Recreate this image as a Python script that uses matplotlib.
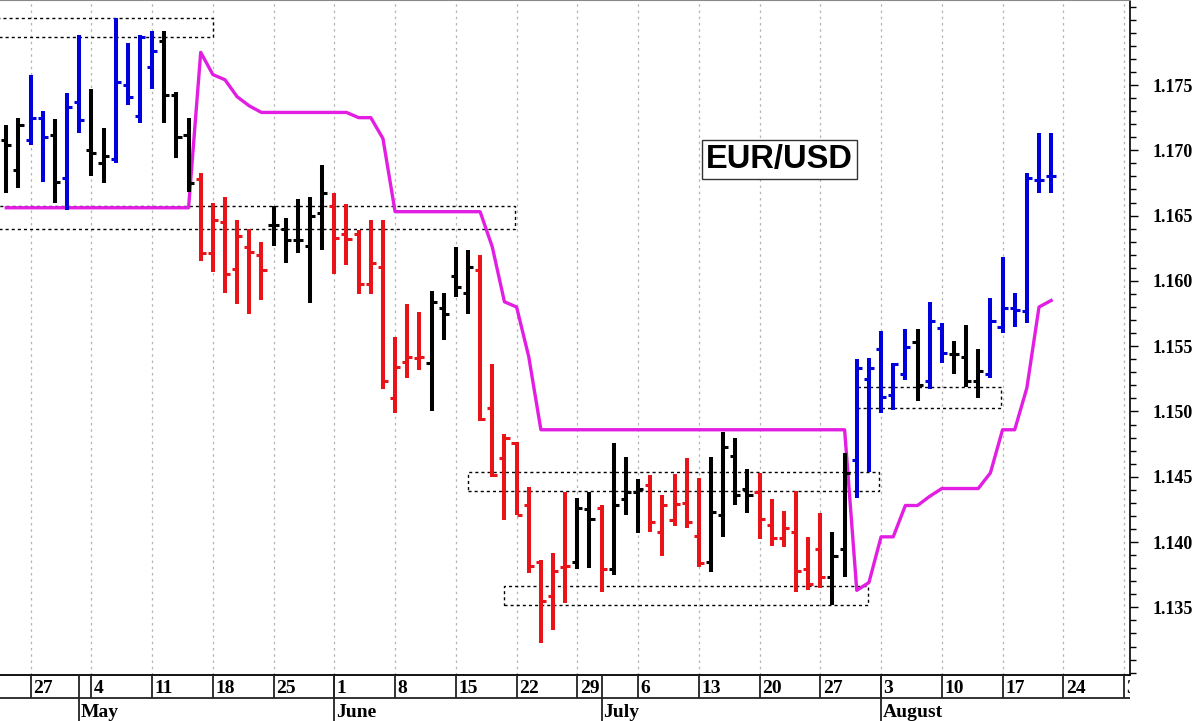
import matplotlib
matplotlib.use("Agg")
import matplotlib.pyplot as plt
from matplotlib.patches import Rectangle
from matplotlib.ticker import MultipleLocator, FixedLocator, FormatStrFormatter
import numpy as np
import pandas as pd

# trading days shown on the axis (bars run from Apr 23 to Aug 21)
calendar = pd.bdate_range("2020-04-23", "2020-09-04")

opens = [1.1708, 1.1685, 1.1708, 1.1725, 1.1712, 1.1679, 1.1737, 1.1700, 1.1690, 1.1693,
         1.1750, 1.1726, 1.1764, 1.1784, 1.1742, 1.1712, 1.1678, 1.1621, 1.1645, 1.1609,
         1.1626, 1.1620, 1.1643, 1.1640, 1.1631, 1.1627, 1.1652, 1.1657, 1.1636, 1.1636,
         1.1598, 1.1611, 1.1510, 1.1538, 1.1541, 1.1537, 1.1579, 1.1604, 1.1591, 1.1608,
         1.1503, 1.1464, 1.1476, 1.1428, 1.1385, 1.1359, 1.1381, 1.1385, 1.1425, 1.1426,
         1.1379, 1.1433, 1.1438, 1.1444, 1.1408, 1.1417, 1.1430, 1.1405, 1.1385, 1.1421,
         1.1466, 1.1441, 1.1438, 1.1413, 1.1403, 1.1408, 1.1379, 1.1395, 1.1373, 1.1395,
         1.1463, 1.1525, 1.1548, 1.1513, 1.1529, 1.1553, 1.1523, 1.1564, 1.1544, 1.1542,
         1.1523, 1.1529, 1.1565, 1.1579, 1.1577, 1.1677, 1.1680]
highs = [1.1719, 1.1725, 1.1758, 1.1730, 1.1724, 1.1744, 1.1788, 1.1747, 1.1717, 1.1801,
         1.1782, 1.1788, 1.1791, 1.1791, 1.1745, 1.1725, 1.1683, 1.1660, 1.1664, 1.1647,
         1.1640, 1.1630, 1.1657, 1.1648, 1.1663, 1.1664, 1.1689, 1.1667, 1.1659, 1.1639,
         1.1647, 1.1647, 1.1557, 1.1582, 1.1576, 1.1592, 1.1591, 1.1626, 1.1624, 1.1620,
         1.1536, 1.1483, 1.1477, 1.1442, 1.1386, 1.1392, 1.1438, 1.1434, 1.1438, 1.1428,
         1.1476, 1.1465, 1.1448, 1.1451, 1.1436, 1.1452, 1.1464, 1.1449, 1.1465, 1.1484,
         1.1480, 1.1456, 1.1453, 1.1433, 1.1424, 1.1439, 1.1404, 1.1422, 1.1408, 1.1468,
         1.1540, 1.1541, 1.1562, 1.1537, 1.1563, 1.1563, 1.1584, 1.1568, 1.1554, 1.1566,
         1.1548, 1.1587, 1.1618, 1.1591, 1.1683, 1.1713, 1.1713]
lows = [1.1667, 1.1671, 1.1704, 1.1676, 1.1660, 1.1654, 1.1713, 1.1680, 1.1675, 1.1690,
        1.1735, 1.1721, 1.1747, 1.1721, 1.1694, 1.1668, 1.1615, 1.1607, 1.1591, 1.1582,
        1.1575, 1.1585, 1.1627, 1.1614, 1.1621, 1.1583, 1.1624, 1.1605, 1.1612, 1.1590,
        1.1590, 1.1517, 1.1499, 1.1526, 1.1532, 1.1500, 1.1555, 1.1588, 1.1575, 1.1493,
        1.1450, 1.1417, 1.1421, 1.1376, 1.1323, 1.1333, 1.1353, 1.1379, 1.1380, 1.1362,
        1.1375, 1.1421, 1.1407, 1.1408, 1.1389, 1.1412, 1.1411, 1.1381, 1.1377, 1.1404,
        1.1428, 1.1422, 1.1402, 1.1397, 1.1396, 1.1362, 1.1363, 1.1365, 1.1352, 1.1373,
        1.1434, 1.1454, 1.1499, 1.1501, 1.1524, 1.1508, 1.1517, 1.1537, 1.1529, 1.1519,
        1.1510, 1.1526, 1.1560, 1.1565, 1.1568, 1.1667, 1.1667]
closes = [1.1704, 1.1719, 1.1725, 1.1710, 1.1676, 1.1733, 1.1723, 1.1698, 1.1696, 1.1752,
          1.1741, 1.1787, 1.1776, 1.1742, 1.1710, 1.1675, 1.1621, 1.1647, 1.1605, 1.1634,
          1.1622, 1.1608, 1.1643, 1.1631, 1.1631, 1.1650, 1.1667, 1.1633, 1.1632, 1.1598,
          1.1614, 1.1523, 1.1534, 1.1542, 1.1542, 1.1584, 1.1575, 1.1595, 1.1611, 1.1494,
          1.1451, 1.1480, 1.1421, 1.1382, 1.1355, 1.1378, 1.1382, 1.1426, 1.1418, 1.1379,
          1.1428, 1.1438, 1.1441, 1.1415, 1.1428, 1.1429, 1.1415, 1.1384, 1.1423, 1.1473,
          1.1436, 1.1436, 1.1418, 1.1403, 1.1411, 1.1378, 1.1368, 1.1373, 1.1389, 1.1453,
          1.1533, 1.1533, 1.1511, 1.1536, 1.1549, 1.1520, 1.1569, 1.1545, 1.1544, 1.1523,
          1.1531, 1.1569, 1.1579, 1.1578, 1.1679, 1.1677, 1.1680]

# bar colour per day: b = up trend, r = down trend, k = neutral
trend = ("kk" "bb" "k" "bb" "kk" "bbbb" "kkk" "rrrrrr" "kkkkk" "rrrrrrrr" "kkkk"
         "rrrrrrrr" "kk" "r" "kkk" "rrrrr" "kkkk" "rrrrrr" "kk" "bbbbb" "k" "bb"
         "kkk" "bbbbbb")

stop_line = [1.1656, 1.1656, 1.1656, 1.1656, 1.1656, 1.1656, 1.1656, 1.1656, 1.1656, 1.1656,
             1.1656, 1.1656, 1.1656, 1.1656, 1.1656, 1.1656, 1.1775, 1.1758, 1.1754, 1.1741,
             1.1734, 1.1729, 1.1729, 1.1729, 1.1729, 1.1729, 1.1729, 1.1729, 1.1729, 1.1725,
             1.1725, 1.1709, 1.1653, 1.1653, 1.1653, 1.1653, 1.1653, 1.1653, 1.1653, 1.1653,
             1.1626, 1.1584, 1.1580, 1.1542, 1.1486, 1.1486, 1.1486, 1.1486, 1.1486, 1.1486,
             1.1486, 1.1486, 1.1486, 1.1486, 1.1486, 1.1486, 1.1486, 1.1486, 1.1486, 1.1486,
             1.1486, 1.1486, 1.1486, 1.1486, 1.1486, 1.1486, 1.1486, 1.1486, 1.1486, 1.1486,
             1.1363, 1.1369, 1.1404, 1.1404, 1.1428, 1.1428, 1.1435, 1.1441, 1.1441, 1.1441,
             1.1441, 1.1453, 1.1486, 1.1486, 1.1518, 1.1580, 1.1585]

# dotted range boxes (day index span, price span)
box_start = [-1.0, -1.0, 38.0, 41.0, 70.0]
box_end = [17.0, 41.9, 71.8, 70.9, 81.9]
box_low = [1.1787, 1.1640, 1.1439, 1.1352, 1.1503]
box_high = [1.1801, 1.1657, 1.1454, 1.1366, 1.1519]

price_labels = [1.135, 1.140, 1.145, 1.150, 1.155, 1.160, 1.165, 1.170, 1.175]

colour_map = {"k": "black", "b": "#0000dc", "r": "#e8141a"}
cols = [colour_map[c] for c in trend]
x = np.arange(len(opens))

W, H = 1200, 721
fig = plt.figure(figsize=(W / 100, H / 100), dpi=100)
ax = fig.add_axes([0, 46 / H, 1130 / W, 675 / H])
ax_d = fig.add_axes([0, 0, 1130 / W, 46 / H])

xlim = (-0.52, 92.49)
ax.set_xlim(*xlim)
ax.set_ylim(1.12982, 1.18151)

week_idx = [i for i, d in enumerate(calendar) if d.dayofweek == 0]
week_lab = [str(calendar[i].day) for i in week_idx]
month_idx = [i for i in range(1, len(calendar))
             if calendar[i].month != calendar[i - 1].month and i < xlim[1]]
month_lab = [calendar[i].strftime("%B") for i in month_idx]

ax.set_xticks(week_idx)
ax.tick_params(axis="x", length=0, labelbottom=False)
ax.grid(axis="x", color="#b4b4b4", lw=0.9, ls=(0, (2, 3)))
ax.set_axisbelow(True)

for s, e, lo, hi in zip(box_start, box_end, box_low, box_high):
    ax.add_patch(Rectangle((s, lo), e - s, hi - lo, fill=False, ec="black",
                           lw=1.0, ls=(0, (2.2, 2.2)), zorder=2))

ax.plot(x, stop_line, color="#e21ee2", lw=2.4, zorder=3, solid_joinstyle="round")

ax.vlines(x, lows, highs, colors=cols, lw=2.9, zorder=4)
ax.hlines(opens, x - 0.42, x, colors=cols, lw=2.2, zorder=4)
ax.hlines(closes, x, x + 0.42, colors=cols, lw=2.2, zorder=4)

ax.text(0.690, 0.7637, "EUR/USD", transform=ax.transAxes, ha="center", va="center",
        fontsize=23.5, fontweight="bold", family="Liberation Sans", zorder=6,
        bbox=dict(boxstyle="square,pad=0.12", fc="white", ec="#333333", lw=1))

# price scale on the right
ax.yaxis.tick_right()
ax.yaxis.set_major_locator(FixedLocator(price_labels))
ax.yaxis.set_minor_locator(MultipleLocator(0.001))
ax.yaxis.set_major_formatter(FormatStrFormatter("%.3f"))
ax.tick_params(axis="y", which="major", length=6, width=1, pad=10, labelsize=13)
ax.tick_params(axis="y", which="minor", length=4.5, width=1)
for lbl in ax.get_yticklabels():
    lbl.set_fontfamily("Liberation Serif")
    lbl.set_fontweight("bold")

ax.spines["left"].set_visible(False)
ax.spines["top"].set_color("#888888")
ax.spines["right"].set_linewidth(1.2)
ax.spines["bottom"].set_linewidth(1.3)

# date strip under the chart
ax_d.set_xlim(*xlim)
ax_d.set_ylim(0, 2)
ax_d.axis("off")
ax_d.axhline(1, color="#222222", lw=1.3)
ax_d.vlines(week_idx, 1, 2, color="#222222", lw=1.3)
ax_d.vlines(month_idx, 0, 2, color="#222222", lw=1.3)
for i, lab in zip(week_idx, week_lab):
    ax_d.text(i + 0.2, 1.23, lab, fontsize=14, fontweight="bold", family="Liberation Serif",
              ha="left", va="baseline", clip_on=True)
for i, lab in zip(month_idx, month_lab):
    ax_d.text(i + 0.15, 0.17, lab, fontsize=14, fontweight="bold", family="Liberation Serif",
              ha="left", va="baseline", clip_on=True)

fig.savefig("out.png", dpi=100)
